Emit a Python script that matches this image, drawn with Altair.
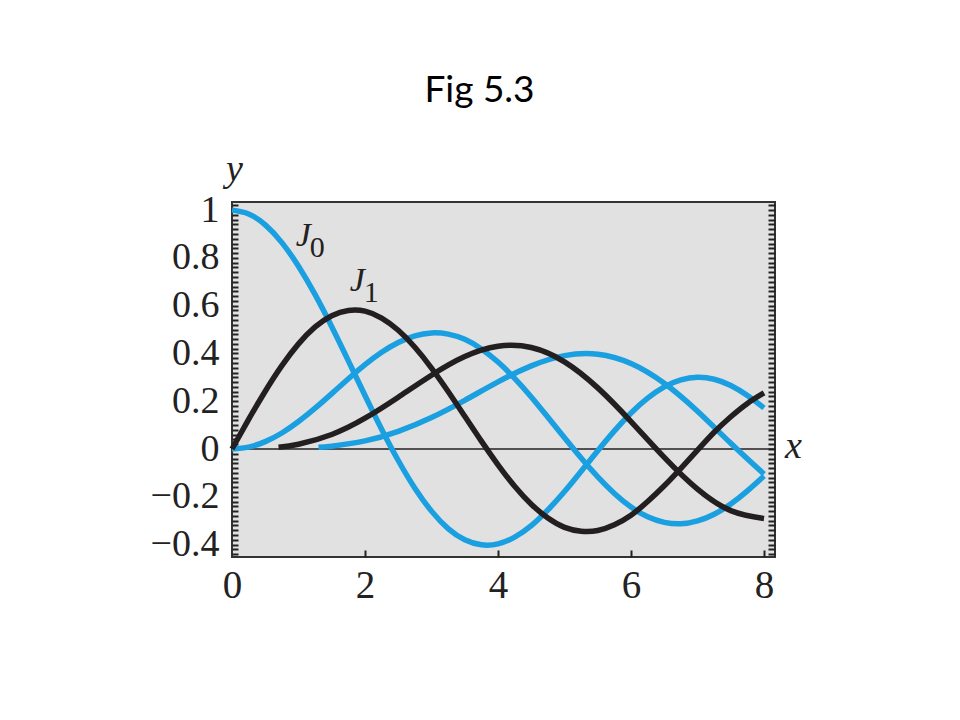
import altair as alt
import pandas as pd

# ---- data (Bessel functions J0..J4) ----
XQ = [0.0, 0.25, 0.5, 0.75, 1.0, 1.25, 1.5, 1.75, 2.0, 2.25, 2.5, 2.75, 3.0, 3.25, 3.5, 3.75, 4.0,
      4.25, 4.5, 4.75, 5.0, 5.25, 5.5, 5.75, 6.0, 6.25, 6.5, 6.75, 7.0, 7.25, 7.5, 7.75, 8.0]
J0 = [1.0, 0.984, 0.938, 0.864, 0.765, 0.646, 0.512, 0.369, 0.224, 0.083, -0.048, -0.164, -0.260,
      -0.333, -0.380, -0.401, -0.397, -0.369, -0.321, -0.255, -0.178, -0.093, -0.007, 0.076, 0.151,
      0.213, 0.260, 0.289, 0.300, 0.292, 0.266, 0.224, 0.172]
J1 = [0.0, 0.124, 0.242, 0.349, 0.440, 0.511, 0.558, 0.580, 0.577, 0.548, 0.497, 0.426, 0.339,
      0.241, 0.137, 0.033, -0.066, -0.156, -0.231, -0.289, -0.328, -0.344, -0.341, -0.317, -0.277,
      -0.220, -0.154, -0.081, -0.005, 0.070, 0.135, 0.191, 0.235]
J2 = [0.0, 0.008, 0.031, 0.067, 0.115, 0.171, 0.232, 0.294, 0.353, 0.405, 0.446, 0.474, 0.486,
      0.481, 0.459, 0.419, 0.364, 0.296, 0.218, 0.133, 0.047, -0.038, -0.117, -0.186, -0.243,
      -0.284, -0.307, -0.313, -0.301, -0.273, -0.230, -0.175, -0.113]
X3 = [0.7, 1.0, 1.5, 2.0, 2.5, 3.0, 3.5, 4.0, 4.5, 5.0, 5.5, 6.0, 6.5, 7.0, 7.5, 8.0]
J3 = [0.007, 0.020, 0.061, 0.129, 0.217, 0.309, 0.387, 0.430, 0.425, 0.365, 0.256, 0.115, -0.035, -0.168, -0.258, -0.291]
X4 = [1.3, 1.5, 2.0, 2.5, 3.0, 3.5, 4.0, 4.5, 5.0, 5.5, 6.0, 6.5, 7.0, 7.5, 8.0]
J4 = [0.007, 0.012, 0.034, 0.074, 0.132, 0.204, 0.281, 0.348, 0.391, 0.397, 0.358, 0.275, 0.158, 0.024, -0.105]

X_TICKS = [0, 2, 4, 6, 8]
Y_TICKS = [-0.4, -0.2, 0, 0.2, 0.4, 0.6, 0.8, 1]
MINOR_Y = [round(-0.44 + 0.02 * i, 2) for i in range(74)]
INNER_X = [2, 4, 6, 8]

LABEL_X = [0.96, 1.77]
LABEL_Y = [0.85, 0.66]
LABEL_MAIN = ["J", "J"]
LABEL_SUB = ["0", "1"]

X_DOMAIN = [0, 8.165]
Y_DOMAIN = [-0.452, 1.034]

W, H = 543, 355
BLUE = "#1a9fe0"
BLACK = "#231f20"
SERIF = "Liberation Serif"

blue_rows = []
for name, xs_, ys_ in [("J0", XQ, J0), ("J2", XQ, J2), ("J4", X4, J4)]:
    for a, b in zip(xs_, ys_):
        blue_rows.append({"series": name, "x": a, "y": b})
black_rows = []
for name, xs_, ys_ in [("J1", XQ, J1), ("J3", X3, J3)]:
    for a, b in zip(xs_, ys_):
        black_rows.append({"series": name, "x": a, "y": b})
df_blue = pd.DataFrame(blue_rows)
df_black = pd.DataFrame(black_rows)
df_zero = pd.DataFrame({"y0": [0.0]})
df_lab = pd.DataFrame({"lx": LABEL_X, "ly": LABEL_Y, "main": LABEL_MAIN, "sub": LABEL_SUB})

xs = alt.Scale(domain=X_DOMAIN, nice=False, zero=False)
ys = alt.Scale(domain=Y_DOMAIN, nice=False, zero=False)

main_x_axis = alt.Axis(orient="bottom", values=X_TICKS, format="d", ticks=False, tickSize=0,
                       domain=False, grid=False, title=None, labelFont=SERIF, labelFontSize=39,
                       labelColor="#222", labelPadding=9, labelFlush=False)
main_y_axis = alt.Axis(orient="left", values=Y_TICKS, ticks=False, tickSize=0, domain=False,
                       grid=False, title=None, labelFont=SERIF, labelFontSize=38,
                       labelColor="#222", labelPadding=13, labelFlush=False,
                       labelExpr="datum.value == 0 ? '0' : datum.value == 1 ? '1' : replace(format(datum.value, '.1f'), '-', '\u2212')")

tick_style = dict(labels=False, domain=False, ticks=True, tickWidth=2, tickColor="#222",
                  grid=False, title=None)

zero = alt.Chart(df_zero).mark_rule(color=BLACK, strokeWidth=1.5).encode(
    y=alt.Y("y0:Q", scale=ys,
            axis=alt.Axis(orient="right", offset=-W, values=MINOR_Y, tickSize=6, **tick_style))
)

blue = alt.Chart(df_blue).mark_line(interpolate="natural", strokeWidth=5.5, color=BLUE).encode(
    x=alt.X("x:Q", scale=xs, axis=main_x_axis),
    y=alt.Y("y:Q", scale=ys, axis=main_y_axis),
    detail="series:N",
)

black = alt.Chart(df_black).mark_line(interpolate="natural", strokeWidth=5.5, color=BLACK).encode(
    x=alt.X("x:Q", scale=xs,
            axis=alt.Axis(orient="top", offset=-H, values=INNER_X, tickSize=7, **tick_style)),
    y=alt.Y("y:Q", scale=ys,
            axis=alt.Axis(orient="left", offset=-W, values=MINOR_Y, tickSize=7, **tick_style)),
    detail="series:N",
)

lab_main = alt.Chart(df_lab).mark_text(font=SERIF, fontSize=34, fontStyle="italic", align="left",
                                       baseline="alphabetic", color="#222").encode(
    x=alt.X("lx:Q", scale=xs, axis=None), y=alt.Y("ly:Q", scale=ys, axis=None), text="main:N")
lab_sub = alt.Chart(df_lab).mark_text(font=SERIF, fontSize=30, align="left", baseline="alphabetic",
                                      dx=14, dy=11, color="#222").encode(
    x=alt.X("lx:Q", scale=xs, axis=None), y=alt.Y("ly:Q", scale=ys, axis=None), text="sub:N")

x_title = alt.Chart(df_zero).mark_text(text="x", font=SERIF, fontSize=38, fontStyle="italic",
                                       align="left", baseline="alphabetic", dx=10, dy=9, color="#222").encode(
    x=alt.X(datum=X_DOMAIN[1], scale=xs, axis=None), y=alt.Y(datum=0, scale=ys, axis=None))
y_title = alt.Chart(df_zero).mark_text(text="y", font=SERIF, fontSize=38, fontStyle="italic",
                                       align="left", baseline="alphabetic", dx=-6, dy=-21, color="#222").encode(
    x=alt.X(datum=0, scale=xs, axis=None), y=alt.Y(datum=Y_DOMAIN[1], scale=ys, axis=None))

chart = alt.layer(zero, blue, black, lab_main, lab_sub, x_title, y_title).resolve_axis(
    x="independent", y="independent"
).properties(
    width=W, height=H,
    autosize=alt.AutoSizeParams(type="none"),
    padding={"left": 224, "top": 194, "right": 170, "bottom": 140},
    title=alt.TitleParams("Fig 5.3", font="Lato", fontSize=37, fontWeight="normal", color="black",
                          anchor="middle", dx=-24, offset=41),
).configure_view(fill="#e1e1e1", stroke="#333", strokeWidth=2)

chart.save("out.html", embed_options={"renderer": "svg", "actions": False})
